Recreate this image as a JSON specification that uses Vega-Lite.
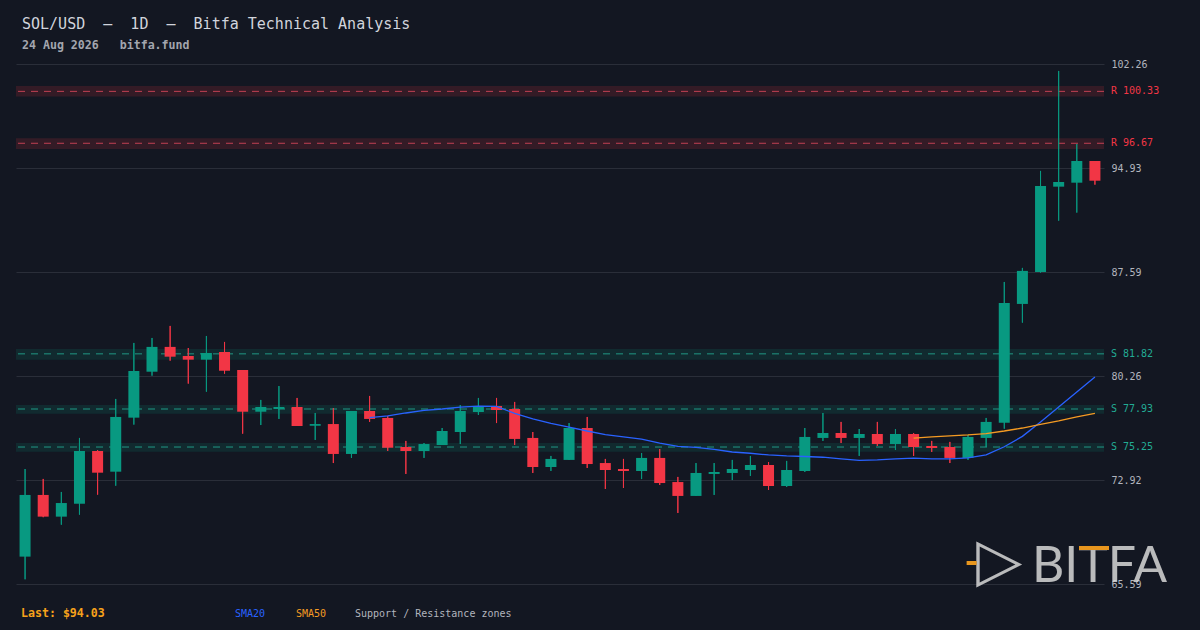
{
  "$schema": "https://vega.github.io/schema/vega-lite/v6.json",
  "width": 1088,
  "height": 520,
  "autosize": {"type": "none"},
  "padding": {"left": 16, "top": 64, "right": 96, "bottom": 46},
  "background": "#131722",
  "config": {"view": {"stroke": null}},
  "title": {
    "text": "SOL/USD\u00a0\u00a0–\u00a0\u00a01D\u00a0\u00a0–\u00a0\u00a0Bitfa Technical Analysis",
    "subtitle": "24 Aug 2026\u00a0\u00a0\u00a0bitfa.fund",
    "anchor": "start",
    "frame": "group",
    "dx": 6,
    "offset": 7,
    "font": "DejaVu Sans Mono",
    "fontSize": 15,
    "fontWeight": "normal",
    "color": "#d1d4dc",
    "subtitleFont": "DejaVu Sans Mono",
    "subtitleFontSize": 11.6,
    "subtitleFontWeight": "bold",
    "subtitleColor": "#a3a6af",
    "subtitlePadding": 8
  },
  "datasets": {
    "candles": [
      {"i": 0, "open": 67.52, "high": 73.70, "low": 65.92, "close": 71.87},
      {"i": 1, "open": 71.87, "high": 73.00, "low": 70.30, "close": 70.34},
      {"i": 2, "open": 70.34, "high": 72.08, "low": 69.77, "close": 71.30},
      {"i": 3, "open": 71.25, "high": 75.89, "low": 70.48, "close": 74.97},
      {"i": 4, "open": 74.97, "high": 75.04, "low": 71.89, "close": 73.44},
      {"i": 5, "open": 73.51, "high": 78.64, "low": 72.52, "close": 77.37},
      {"i": 6, "open": 77.32, "high": 82.59, "low": 76.83, "close": 80.61},
      {"i": 7, "open": 80.56, "high": 82.94, "low": 80.28, "close": 82.31},
      {"i": 8, "open": 82.31, "high": 83.79, "low": 81.34, "close": 81.62},
      {"i": 9, "open": 81.67, "high": 82.23, "low": 79.72, "close": 81.41},
      {"i": 10, "open": 81.41, "high": 83.08, "low": 79.15, "close": 81.88},
      {"i": 11, "open": 81.95, "high": 82.66, "low": 80.42, "close": 80.63},
      {"i": 12, "open": 80.68, "high": 80.68, "low": 76.19, "close": 77.74},
      {"i": 13, "open": 77.74, "high": 78.57, "low": 76.80, "close": 78.07},
      {"i": 14, "open": 77.93, "high": 79.55, "low": 77.23, "close": 78.07},
      {"i": 15, "open": 78.07, "high": 78.71, "low": 76.73, "close": 76.73},
      {"i": 16, "open": 76.75, "high": 77.65, "low": 75.75, "close": 76.87},
      {"i": 17, "open": 76.87, "high": 78.00, "low": 74.12, "close": 74.76},
      {"i": 18, "open": 74.76, "high": 77.79, "low": 74.48, "close": 77.79},
      {"i": 19, "open": 77.79, "high": 78.85, "low": 77.02, "close": 77.23},
      {"i": 20, "open": 77.30, "high": 77.44, "low": 74.97, "close": 75.20},
      {"i": 21, "open": 75.25, "high": 75.68, "low": 73.35, "close": 74.97},
      {"i": 22, "open": 74.97, "high": 75.53, "low": 74.48, "close": 75.46},
      {"i": 23, "open": 75.39, "high": 76.59, "low": 75.39, "close": 76.38},
      {"i": 24, "open": 76.31, "high": 78.21, "low": 75.46, "close": 77.79},
      {"i": 25, "open": 77.72, "high": 78.71, "low": 77.51, "close": 78.14},
      {"i": 26, "open": 78.14, "high": 78.71, "low": 76.94, "close": 77.86},
      {"i": 27, "open": 77.93, "high": 78.43, "low": 75.39, "close": 75.82},
      {"i": 28, "open": 75.89, "high": 76.31, "low": 73.42, "close": 73.84},
      {"i": 29, "open": 73.84, "high": 74.62, "low": 73.56, "close": 74.41},
      {"i": 30, "open": 74.34, "high": 76.94, "low": 74.34, "close": 76.59},
      {"i": 31, "open": 76.59, "high": 77.37, "low": 73.77, "close": 74.05},
      {"i": 32, "open": 74.12, "high": 74.41, "low": 72.29, "close": 73.63},
      {"i": 33, "open": 73.70, "high": 74.41, "low": 72.36, "close": 73.56},
      {"i": 34, "open": 73.56, "high": 74.83, "low": 72.99, "close": 74.48},
      {"i": 35, "open": 74.48, "high": 75.11, "low": 72.57, "close": 72.71},
      {"i": 36, "open": 72.78, "high": 73.14, "low": 70.60, "close": 71.80},
      {"i": 37, "open": 71.80, "high": 74.12, "low": 71.80, "close": 73.42},
      {"i": 38, "open": 73.35, "high": 74.12, "low": 71.87, "close": 73.49},
      {"i": 39, "open": 73.42, "high": 74.34, "low": 72.92, "close": 73.70},
      {"i": 40, "open": 73.63, "high": 74.62, "low": 73.21, "close": 73.98},
      {"i": 41, "open": 73.98, "high": 74.19, "low": 72.22, "close": 72.50},
      {"i": 42, "open": 72.50, "high": 74.27, "low": 72.43, "close": 73.63},
      {"i": 43, "open": 73.56, "high": 76.59, "low": 73.49, "close": 75.96},
      {"i": 44, "open": 75.89, "high": 77.65, "low": 75.68, "close": 76.24},
      {"i": 45, "open": 76.24, "high": 77.02, "low": 75.53, "close": 75.89},
      {"i": 46, "open": 75.89, "high": 76.52, "low": 74.62, "close": 76.17},
      {"i": 47, "open": 76.17, "high": 77.02, "low": 75.32, "close": 75.46},
      {"i": 48, "open": 75.46, "high": 76.52, "low": 75.04, "close": 76.17},
      {"i": 49, "open": 76.17, "high": 76.24, "low": 74.62, "close": 75.25},
      {"i": 50, "open": 75.32, "high": 75.68, "low": 74.90, "close": 75.18},
      {"i": 51, "open": 75.25, "high": 75.61, "low": 74.12, "close": 74.48},
      {"i": 52, "open": 74.48, "high": 76.10, "low": 74.34, "close": 75.96},
      {"i": 53, "open": 75.89, "high": 77.30, "low": 75.25, "close": 77.02},
      {"i": 54, "open": 76.97, "high": 86.89, "low": 76.54, "close": 85.41},
      {"i": 55, "open": 85.34, "high": 87.88, "low": 84.02, "close": 87.67},
      {"i": 56, "open": 87.60, "high": 94.72, "low": 87.55, "close": 93.66},
      {"i": 57, "open": 93.61, "high": 101.77, "low": 91.21, "close": 93.94},
      {"i": 58, "open": 93.89, "high": 96.62, "low": 91.78, "close": 95.42},
      {"i": 59, "open": 95.42, "high": 95.42, "low": 93.75, "close": 94.03}
    ],
    "sma20": [
      {"i": 19, "v": 77.32}, {"i": 20, "v": 77.44}, {"i": 21, "v": 77.65}, {"i": 22, "v": 77.83},
      {"i": 23, "v": 77.93}, {"i": 24, "v": 78.07}, {"i": 25, "v": 78.14}, {"i": 26, "v": 78.11},
      {"i": 27, "v": 77.62}, {"i": 28, "v": 77.23}, {"i": 29, "v": 76.91}, {"i": 30, "v": 76.66},
      {"i": 31, "v": 76.38}, {"i": 32, "v": 76.13}, {"i": 33, "v": 75.96}, {"i": 34, "v": 75.80},
      {"i": 35, "v": 75.53}, {"i": 36, "v": 75.30}, {"i": 37, "v": 75.22}, {"i": 38, "v": 75.08},
      {"i": 39, "v": 74.90}, {"i": 40, "v": 74.81}, {"i": 41, "v": 74.69}, {"i": 42, "v": 74.62},
      {"i": 43, "v": 74.58}, {"i": 44, "v": 74.53}, {"i": 45, "v": 74.41}, {"i": 46, "v": 74.31},
      {"i": 47, "v": 74.34}, {"i": 48, "v": 74.41}, {"i": 49, "v": 74.46}, {"i": 50, "v": 74.41},
      {"i": 51, "v": 74.41}, {"i": 52, "v": 74.48}, {"i": 53, "v": 74.69}, {"i": 54, "v": 75.27},
      {"i": 55, "v": 76.00}, {"i": 56, "v": 77.02}, {"i": 57, "v": 78.07}, {"i": 58, "v": 79.13},
      {"i": 59, "v": 80.19}
    ],
    "sma50": [
      {"i": 49, "v": 75.87}, {"i": 50, "v": 75.96}, {"i": 51, "v": 76.03}, {"i": 52, "v": 76.10},
      {"i": 53, "v": 76.20}, {"i": 54, "v": 76.38}, {"i": 55, "v": 76.59}, {"i": 56, "v": 76.84},
      {"i": 57, "v": 77.09}, {"i": 58, "v": 77.37}, {"i": 59, "v": 77.63}
    ],
    "zones": [
      {"kind": "R", "level": 100.33, "lo": 99.96, "hi": 100.71, "label": "R 100.33"},
      {"kind": "R", "level": 96.67, "lo": 96.27, "hi": 97.02, "label": "R 96.67"},
      {"kind": "S", "level": 81.82, "lo": 81.41, "hi": 82.16, "label": "S 81.82"},
      {"kind": "S", "level": 77.93, "lo": 77.60, "hi": 78.21, "label": "S 77.93"},
      {"kind": "S", "level": 75.25, "lo": 74.92, "hi": 75.53, "label": "S 75.25"}
    ]
  },
  "layer": [
    {
      "data": {"name": "candles"},
      "mark": {"type": "rule", "strokeWidth": 1},
      "encoding": {
        "x": {"field": "i", "type": "quantitative", "title": null, "axis": null, "scale": {"domain": [-0.5, 59.5], "nice": false, "zero": false, "padding": 0}},
        "y": {
          "field": "low", "type": "quantitative", "title": null,
          "scale": {"domain": [65.59, 102.26], "nice": false, "zero": false, "padding": 0},
          "axis": {
            "orient": "right",
            "values": [65.59, 72.924, 80.258, 87.592, 94.926, 102.26],
            "format": ".2f",
            "grid": true,
            "gridColor": "#2a2e39",
            "gridWidth": 1,
            "domain": false,
            "ticks": false,
            "labelColor": "#b2b5be",
            "labelFont": "DejaVu Sans Mono",
            "labelFontSize": 10,
            "labelPadding": 7
          }
        },
        "y2": {"field": "high"},
        "color": {"condition": {"test": "datum.close >= datum.open", "value": "#089981"}, "value": "#f23645"}
      }
    },
    {
      "data": {"name": "zones"},
      "mark": {"type": "rect", "opacity": 0.15},
      "encoding": {
        "y": {"field": "lo", "type": "quantitative"},
        "y2": {"field": "hi"},
        "color": {"condition": {"test": "datum.kind == 'R'", "value": "#f23645"}, "value": "#089981"}
      }
    },
    {
      "data": {"name": "zones"},
      "mark": {"type": "rule", "strokeDash": [7, 6], "strokeWidth": 1, "opacity": 0.85},
      "encoding": {
        "y": {"field": "level", "type": "quantitative"},
        "color": {"condition": {"test": "datum.kind == 'R'", "value": "#d9485b"}, "value": "#22ab94"}
      }
    },
    {
      "data": {"name": "zones"},
      "mark": {"type": "text", "align": "left", "baseline": "middle", "dx": 7, "font": "DejaVu Sans Mono", "fontSize": 10},
      "encoding": {
        "x": {"datum": 59.5, "type": "quantitative"},
        "y": {"field": "level", "type": "quantitative"},
        "text": {"field": "label"},
        "color": {"condition": {"test": "datum.kind == 'R'", "value": "#f23645"}, "value": "#22ab94"}
      }
    },
    {
      "data": {"name": "candles"},
      "mark": {"type": "rule", "strokeWidth": 1},
      "encoding": {
        "x": {"field": "i", "type": "quantitative"},
        "y": {"field": "low", "type": "quantitative"},
        "y2": {"field": "high"},
        "color": {"condition": {"test": "datum.close >= datum.open", "value": "#089981"}, "value": "#f23645"}
      }
    },
    {
      "data": {"name": "candles"},
      "mark": {"type": "bar", "width": 11},
      "encoding": {
        "x": {"field": "i", "type": "quantitative"},
        "y": {"field": "open", "type": "quantitative"},
        "y2": {"field": "close"},
        "color": {"condition": {"test": "datum.close >= datum.open", "value": "#089981"}, "value": "#f23645"}
      }
    },
    {
      "data": {"name": "sma20"},
      "mark": {"type": "line", "color": "#2962ff", "strokeWidth": 1.3},
      "encoding": {
        "x": {"field": "i", "type": "quantitative"},
        "y": {"field": "v", "type": "quantitative"}
      }
    },
    {
      "data": {"name": "sma50"},
      "mark": {"type": "line", "color": "#f59b23", "strokeWidth": 1.3},
      "encoding": {
        "x": {"field": "i", "type": "quantitative"},
        "y": {"field": "v", "type": "quantitative"}
      }
    },
    {
      "data": {"values": [{"t": "BITFA"}]},
      "mark": {"type": "text", "font": "Lato", "fontSize": 50, "align": "left", "baseline": "alphabetic", "color": "#d8d8d8", "opacity": 0.85},
      "encoding": {
        "x": {"datum": 55.53, "type": "quantitative"},
        "y": {"datum": 65.73, "type": "quantitative"},
        "text": {"field": "t"}
      }
    },
    {
      "data": {"values": [{"t": "T"}]},
      "mark": {"type": "tick", "orient": "horizontal", "size": 30, "thickness": 4, "color": "#e8961e", "opacity": 1},
      "encoding": {
        "x": {"datum": 58.95, "type": "quantitative"},
        "y": {"datum": 68.13, "type": "quantitative"}
      }
    },
    {
      "data": {"values": [{"t": "▷"}]},
      "mark": {"type": "text", "font": "DejaVu Sans", "fontSize": 60, "align": "left", "baseline": "middle", "color": "#d8d8d8", "opacity": 0.85},
      "encoding": {
        "x": {"datum": 52.45, "type": "quantitative"},
        "y": {"datum": 67.14, "type": "quantitative"},
        "text": {"field": "t"}
      }
    },
    {
      "data": {"values": [{"t": "-"}]},
      "mark": {"type": "tick", "orient": "horizontal", "size": 10, "thickness": 4, "color": "#e8961e", "opacity": 1},
      "encoding": {
        "x": {"datum": 52.2, "type": "quantitative"},
        "y": {"datum": 67.07, "type": "quantitative"}
      }
    },
    {
      "data": {"values": [{"t": "Last: $94.03"}]},
      "mark": {"type": "text", "font": "DejaVu Sans Mono", "fontSize": 11.6, "fontWeight": "bold", "align": "left", "baseline": "middle", "dx": 5, "dy": 30, "color": "#f7a21b"},
      "encoding": {
        "x": {"datum": -0.5, "type": "quantitative"},
        "y": {"datum": 65.59, "type": "quantitative"},
        "text": {"field": "t"}
      }
    },
    {
      "data": {"values": [{"t": "SMA20"}]},
      "mark": {"type": "text", "font": "DejaVu Sans Mono", "fontSize": 10, "align": "left", "baseline": "middle", "dx": 219, "dy": 30, "color": "#2962ff"},
      "encoding": {
        "x": {"datum": -0.5, "type": "quantitative"},
        "y": {"datum": 65.59, "type": "quantitative"},
        "text": {"field": "t"}
      }
    },
    {
      "data": {"values": [{"t": "SMA50"}]},
      "mark": {"type": "text", "font": "DejaVu Sans Mono", "fontSize": 10, "align": "left", "baseline": "middle", "dx": 280, "dy": 30, "color": "#f59b23"},
      "encoding": {
        "x": {"datum": -0.5, "type": "quantitative"},
        "y": {"datum": 65.59, "type": "quantitative"},
        "text": {"field": "t"}
      }
    },
    {
      "data": {"values": [{"t": "Support / Resistance zones"}]},
      "mark": {"type": "text", "font": "DejaVu Sans Mono", "fontSize": 10, "align": "left", "baseline": "middle", "dx": 339, "dy": 30, "color": "#b2b5be"},
      "encoding": {
        "x": {"datum": -0.5, "type": "quantitative"},
        "y": {"datum": 65.59, "type": "quantitative"},
        "text": {"field": "t"}
      }
    }
  ]
}
